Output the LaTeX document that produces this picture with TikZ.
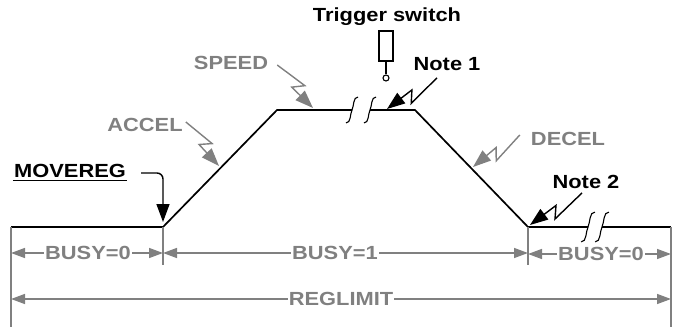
\documentclass[tikz,border=0pt]{standalone}
\usepackage{fontspec}
\setmainfont{Liberation Sans}[FakeStretch=1.15]
\usetikzlibrary{arrows.meta,calc}
\definecolor{dimgray}{RGB}{128,128,128}
\tikzset{
  % thick black line of the move profile
  profile/.style={line width=1.7pt, line join=miter},
  % gray dimension lines and ticks
  dimline/.style={dimgray, line width=1.4pt},
  dimarrow/.style={dimline, -{Triangle[length=14pt,width=10pt]}},
  lbl/.style={font=\bfseries\fontsize{19}{19}\selectfont, inner sep=1pt},
  % arrow with a zigzag in it
  zap/.style={-{Triangle[length=18pt,width=13pt]}, to path={
      -- ($(\tikztostart)!0.6!(\tikztotarget)!8pt!90:(\tikztotarget)$)
      -- ($(\tikztostart)!0.47!(\tikztotarget)!3pt!-90:(\tikztotarget)$)
      -- (\tikztotarget)}},
  % break mark on the profile
  brk/.pic={\draw[line width=1.1pt] (-6,13) .. controls (-1,13) and (-2,4) .. (0,0)
      .. controls (2,-4) and (1,-13) .. (6,-13);},
}
\begin{document}
\begin{tikzpicture}[x=1pt,y=-1pt]
  \useasboundingbox (0,0) rectangle (677,329);
  % corners of the profile
  \coordinate (p0) at (11,227);
  \coordinate (p1) at (163,227);
  \coordinate (p2) at (277,110);
  \coordinate (p3) at (415,110);
  \coordinate (p4) at (528,227);
  \coordinate (p5) at (671,227);
  % where the breaks cut the line
  \coordinate (b1) at (352,110);
  \coordinate (b2) at (370,110);
  \coordinate (b3) at (588,227);
  \coordinate (b4) at (602,227);

  \draw[profile] (p0) -- (p1) -- (p2) -- (b1);
  \draw[profile] (b2) -- (p3) -- (p4) -- (b3);
  \draw[profile] (b4) -- (p5);
  \pic at (b1) {brk};
  \pic at (b2) {brk};
  \pic[scale=1.15] at (b3) {brk};
  \pic[scale=1.15] at (b4) {brk};

  % trigger switch
  \node[lbl] (trig) at (387,17) {Trigger switch};
  \node[draw, line width=1.1pt, minimum width=14pt, minimum height=30pt, inner sep=0] (sw) at (386,46) {};
  \node[draw, circle, line width=1.1pt, minimum size=6pt, inner sep=0] (swdot) at (386,78) {};
  \draw[line width=1.1pt] (sw.south) -- (swdot.north);

  % labels
  \node[lbl] (movereg) at (70,171) {MOVEREG};
  \node[lbl, dimgray] (accel) at (145,125) {ACCEL};
  \node[lbl, dimgray] (speed) at (231,63) {SPEED};
  \node[lbl] (note1) at (447,64) {Note 1};
  \node[lbl, dimgray] (decel) at (568,139) {DECEL};
  \node[lbl] (note2) at (586,182) {Note 2};

  % arrow tips on the profile
  \coordinate (taccel) at (219,166);
  \coordinate (tspeed) at (313,108);
  \coordinate (tnote1) at (387,109);
  \coordinate (tdecel) at (473,167);
  \coordinate (tnote2) at (530,225);
  \coordinate (tmove) at (163,222);

  \draw[dimline, zap] ([shift={(2,-3)}]accel.east) to (taccel);
  \draw[dimline, zap] ([shift={(8,2)}]speed.east) to (tspeed);
  \draw[line width=1.4pt, zap] ([shift={(-10,6)}]note1.south) to (tnote1);
  \draw[dimline, zap] ([shift={(-10,-4)}]decel.west) to (tdecel);
  \draw[line width=1.4pt, zap] ([shift={(-4,3)}]note2.south) to (tnote2);

  \draw[line width=1.6pt] ([yshift=-3pt]movereg.base west) -- ([yshift=-3pt]movereg.base east);
  \draw[line width=1.4pt, rounded corners=6pt, -{Triangle[length=18pt,width=13pt]}]
    ([shift={(14,2)}]movereg.east) -| (tmove);

  % ticks
  \coordinate (d0) at (11,327);
  \coordinate (d1) at (163,265);
  \coordinate (d2) at (528,265);
  \coordinate (d3) at (671,327);
  \draw[dimline] (p0) -- (d0);
  \draw[dimline] (p1) -- (d1);
  \draw[dimline] (p4) -- (d2);
  \draw[dimline] (p5) -- (d3);

  % dimensions
  \node[lbl, dimgray] (busya) at (88,253) {BUSY=0};
  \node[lbl, dimgray] (busyb) at (335,253) {BUSY=1};
  \node[lbl, dimgray] (busyc) at (601,254) {BUSY=0};
  \node[lbl, dimgray] (reglim) at (341,299) {REGLIMIT};
  \draw[dimarrow] (busya.west) -- (busya.west -| p0);
  \draw[dimarrow] (busya.east) -- (busya.east -| p1);
  \draw[dimarrow] (busyb.west) -- (busyb.west -| p1);
  \draw[dimarrow] (busyb.east) -- (busyb.east -| p4);
  \draw[dimarrow] (busyc.west) -- (busyc.west -| p4);
  \draw[dimarrow] (busyc.east) -- (busyc.east -| p5);
  \draw[dimarrow] (reglim.west) -- (reglim.west -| p0);
  \draw[dimarrow] (reglim.east) -- (reglim.east -| p5);
\end{tikzpicture}
\end{document}
